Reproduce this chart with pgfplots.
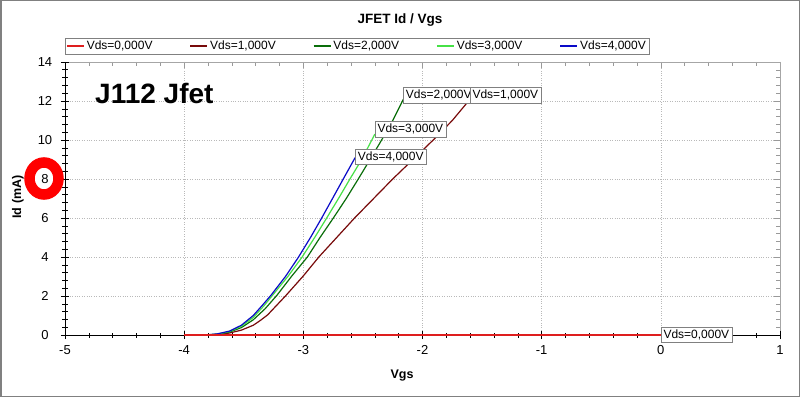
\documentclass[border=0pt]{standalone}
\usepackage{pgfplots}
\pgfplotsset{compat=1.18}
\usepackage{fontspec}
\setmainfont{Liberation Sans}
\definecolor{cR}{RGB}{222,30,30}
\definecolor{cM}{RGB}{120,10,10}
\definecolor{cG}{RGB}{10,110,10}
\definecolor{cL}{RGB}{70,225,70}
\definecolor{cB}{RGB}{10,10,200}
\begin{document}
\begin{tikzpicture}
\useasboundingbox (0pt,0pt) rectangle (800pt,397pt);
\fill[white] (0pt,0pt) rectangle (800pt,397pt);
\draw[gray,line width=1.5pt] (0.75pt,0.75pt) rectangle (799.25pt,396.25pt);
% background axis: grid, gray box, inner ticks top/right
\begin{axis}[at={(65pt,62pt)}, anchor=south west, scale only axis,
  width=715pt, height=273pt,
  xmin=-5, xmax=1, ymin=0, ymax=14,
  xtick={-5,-4,...,1}, ytick={0,2,...,14},
  minor x tick num=4, minor y tick num=4,
  xticklabels={}, yticklabels={},
  xtick pos=right, ytick pos=right,
  tick align=inside, major tick length=6pt, minor tick length=4pt,
  every tick/.style={gray!80},
  grid=major, major grid style={gray!55, dotted, line width=0.6pt},
  axis line style={gray!70, line width=0.8pt}]
\end{axis}
% main axis
\begin{axis}[at={(65pt,62pt)}, anchor=south west, scale only axis,
  width=715pt, height=273pt,
  xmin=-5, xmax=1, ymin=0, ymax=14, clip=false,
  xtick={-5,-4,...,1}, ytick={0,2,...,14},
  minor x tick num=4, minor y tick num=4,
  axis x line*=bottom, axis y line*=left,
  axis line style={black, line width=0.8pt, -},
  tick align=center, major tick length=8pt, minor tick length=5pt,
  every tick/.style={black, line width=0.6pt},
  /pgf/number format/assume math mode=true,
  tick label style={font=\fontsize{13}{15}\selectfont},
  x tick label style={yshift=-3pt},
  y tick label style={anchor=center, xshift=-16pt},
  legend image code/.code={\draw[#1, line width=1.6pt] (0pt,0pt) -- (17pt,0pt);},
  legend style={at={(0,1.088)}, anchor=north west, draw=gray,
    legend columns=5, font=\fontsize{12}{13}\selectfont,
    inner sep=1pt, row sep=0pt,
    /tikz/every even column/.append style={column sep=35pt}},
  legend cell align=left]
\addplot[color=cR, line width=1.2pt] coordinates {(-4,0) (0,0)};
\addlegendentry{Vds=0,000V}
\addplot[color=cM, line width=1.2pt] coordinates {
(-4.0,0) (-3.82,0) (-3.72,0.03) (-3.62,0.1) (-3.52,0.25) (-3.42,0.5)
(-3.36,0.75) (-3.3,1.03) (-3.15,2.0) (-3.0,3.03) (-2.87,4.0) (-2.72,5.0)
(-2.57,6.0) (-2.41,7.0) (-2.25,8.0) (-2.08,9.0) (-1.91,10.0) (-1.75,11.0)
(-1.60,12.1)};
\addlegendentry{Vds=1,000V}
\addplot[color=cG, line width=1.2pt] coordinates {
(-4.0,0) (-3.82,0) (-3.72,0.04) (-3.62,0.15) (-3.52,0.38) (-3.42,0.78)
(-3.32,1.35) (-3.22,2.05) (-3.1,3.0) (-2.966,4.0) (-2.86,5.0) (-2.748,6.0)
(-2.64,7.0) (-2.539,8.0) (-2.44,9.0) (-2.343,10.0) (-2.25,11.0) (-2.16,12.1)};
\addlegendentry{Vds=2,000V}
\addplot[color=cL, line width=1.2pt] coordinates {
(-4.0,0) (-3.82,0) (-3.72,0.05) (-3.62,0.18) (-3.52,0.45) (-3.42,0.9)
(-3.33,1.5) (-3.25,2.1) (-3.13,3.0) (-3.01,4.0) (-2.905,5.0) (-2.804,6.0)
(-2.705,7.0) (-2.609,8.0) (-2.51,9.0) (-2.40,10.3)};
\addlegendentry{Vds=3,000V}
\addplot[color=cB, line width=1.2pt] coordinates {
(-4.0,0) (-3.82,0) (-3.72,0.06) (-3.62,0.2) (-3.52,0.5) (-3.42,1.0)
(-3.34,1.55) (-3.27,2.05) (-3.15,3.0) (-3.04,4.0) (-2.94,5.0) (-2.846,6.0)
(-2.755,7.0) (-2.665,8.0) (-2.565,9.1)};
\addlegendentry{Vds=4,000V}
\addplot[color=cR, line width=1.2pt, forget plot] coordinates {(-4,0) (0,0)};
\tikzset{lbl/.style={draw=gray, fill=white, anchor=west, inner xsep=2.5pt,
  inner ysep=2.5pt, font=\fontsize{12}{13}\selectfont}}
\node[lbl] at (axis cs:-2.565,9.13) {Vds=4,000V};
\node[lbl] at (axis cs:-2.40,10.55) {Vds=3,000V};
\node[lbl] at (axis cs:-2.162,12.3) {Vds=2,000V};
\node[lbl] at (axis cs:-1.603,12.3) {Vds=1,000V};
\node[lbl] at (axis cs:0,0) {Vds=0,000V};
\end{axis}
\node[font=\bfseries\fontsize{13.5}{15}\selectfont] at (400pt,377pt) {JFET Id / Vgs};
\node[font=\bfseries\fontsize{12.5}{14}\selectfont] at (402pt,21pt) {Vgs};
\node[font=\bfseries\fontsize{12.5}{14}\selectfont, rotate=90] at (18pt,200pt) {Id (mA)};
\node[font=\bfseries\fontsize{28}{30}\selectfont, anchor=base west, inner sep=0pt] at (95pt,293.5pt) {J112 Jfet};
\draw[red, line width=10.5pt] (44pt,218.5pt) ellipse [x radius=14.5pt, y radius=16pt];
\end{tikzpicture}
\end{document}
